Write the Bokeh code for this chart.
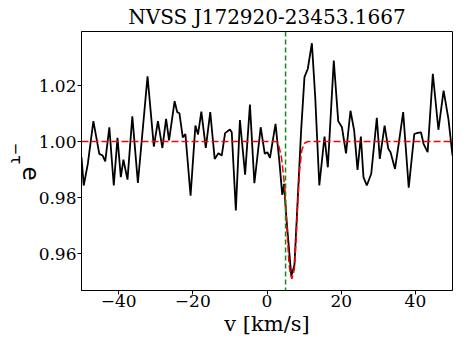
import math
from bokeh.plotting import figure
from bokeh.models import FixedTicker, Label, Span, Range1d
from bokeh.embed import file_html
from bokeh.resources import INLINE

title_text = "NVSS J172920-23453.1667"
x_label = "v [km/s]"

vel = [-50.0, -49.4, -48.3, -46.8, -45.2, -44.3, -43.6, -42.5, -41.3, -40.3,
       -39.4, -38.7, -37.6, -36.3, -34.8, -32.2, -30.5, -29.4, -28.2, -27.2,
       -26.4, -24.9, -24.2, -23.6, -22.7, -22.0, -20.6, -19.3, -18.6, -17.7,
       -16.5, -15.3, -14.1, -13.1, -12.2, -11.3, -10.0, -9.5, -8.4, -7.3,
       -5.9, -4.6, -3.4, -1.7, -0.6, 0.1, 0.8, 2.3, 3.4, 4.1,
       4.6, 5.2, 6.55, 7.4, 8.3, 9.2, 10.1, 11.0, 12.1, 13.0,
       14.1, 15.5, 16.4, 18.0, 19.2, 20.2, 21.3, 22.5, 23.5, 24.4,
       25.3, 26.0, 26.9, 28.1, 29.6, 30.4, 31.7, 32.7, 33.3, 34.5,
       35.5, 36.7, 38.2, 39.7, 40.6, 41.5, 42.2, 43.3, 44.7, 46.2,
       47.6, 48.9, 50.0]
etau = [0.9944, 0.9843, 0.9920, 1.0073, 0.9956, 0.9950, 0.9929, 1.0051, 0.9843, 1.0013,
        0.9873, 0.9935, 0.9864, 1.0090, 0.9852, 1.0233, 0.9982, 1.0073, 0.9977, 1.0081,
        1.0004, 1.0144, 1.0105, 1.0101, 1.0015, 1.0027, 0.9807, 1.0057, 1.0025, 1.0107,
        0.9977, 1.0105, 0.9938, 0.9958, 0.9950, 1.0030, 1.0043, 1.0033, 0.9754, 1.0077,
        0.9882, 1.0132, 0.9851, 1.0051, 0.9956, 0.9962, 0.9942, 1.0063, 0.9920, 0.9810,
        0.9849, 0.9730, 0.9520, 0.9560, 0.9800, 1.0039, 1.0230, 1.0260, 1.0351, 1.0158,
        0.9843, 1.0018, 0.9908, 1.0289, 1.0073, 1.0051, 0.9958, 1.0110, 1.0039, 0.9899,
        1.0018, 0.9873, 0.9843, 0.9885, 1.0085, 0.9938, 1.0057, 0.9974, 0.9962, 0.9902,
        0.9992, 1.0105, 0.9835, 1.0027, 1.0031, 1.0033, 0.9992, 0.9962, 1.0242, 1.0042,
        1.0182, 1.0081, 0.9950]

# fitted model
fit_vel = [-50.0, 2.5, 3.0, 3.9, 4.6, 5.1, 5.5, 5.9, 6.3, 6.7, 7.1, 7.4, 7.9, 8.3, 8.8, 9.4, 10.1, 11.0, 50.0]
fit_etau = [1.0, 1.0, 0.9995, 0.9944, 0.9860, 0.9765, 0.9660, 0.9570, 0.9525, 0.9510, 0.9525, 0.9550, 0.9660, 0.9780, 0.9900, 0.9970, 0.9994, 1.0, 1.0]

v_center = 5.0

x_ticks = [-40, -20, 0, 20, 40]
x_tick_labels = ["\u221240", "\u221220", "0", "20", "40"]
y_ticks = [0.96, 0.98, 1.00, 1.02]
y_tick_labels = ["0.96", "0.98", "1.00", "1.02"]

serif = "DejaVu Serif"

p = figure(width=463, height=347, output_backend="svg", toolbar_location=None,
           x_range=Range1d(-50, 50), y_range=Range1d(0.9468, 1.0393),
           min_border_left=79, min_border_right=11, min_border_top=31, min_border_bottom=57)
p.title.text = title_text
p.title.text_font = serif
p.title.text_font_size = "20px"
p.title.text_font_style = "normal"
p.title.text_color = "black"
p.title.align = "center"
p.title.standoff = 5

p.grid.visible = False
p.outline_line_color = "black"
p.outline_line_width = 1
p.background_fill_color = "white"
p.border_fill_color = "white"

for ax in (p.xaxis[0], p.yaxis[0]):
    ax.major_label_text_font = serif
    ax.major_label_text_font_size = "17px"
    ax.major_label_text_color = "black"
    ax.minor_tick_line_color = None
    ax.major_tick_in = 0
    ax.major_tick_out = 4
    ax.major_tick_line_color = "black"
    ax.axis_line_color = "black"

p.xaxis.major_label_standoff = 0
p.yaxis.major_label_standoff = 1
p.xaxis.ticker = FixedTicker(ticks=x_ticks)
p.xaxis.major_label_overrides = {t: s for t, s in zip(x_ticks, x_tick_labels)}
p.yaxis.ticker = FixedTicker(ticks=y_ticks)
p.yaxis.major_label_overrides = {t: s for t, s in zip(y_ticks, y_tick_labels)}

p.xaxis.axis_label = x_label
p.xaxis.axis_label_text_font = serif
p.xaxis.axis_label_text_font_size = "21px"
p.xaxis.axis_label_text_font_style = "normal"
p.xaxis.axis_label_text_color = "black"
p.xaxis.axis_label_standoff = 2

p.line(vel, etau, line_color="black", line_width=1.8)
p.line(fit_vel, fit_etau, line_color="#ff0000", line_width=1.5, line_dash="7 3")
p.add_layout(Span(location=v_center, dimension="height", line_color="#108c10",
                  line_width=1.5, line_dash="5 3"))

# y label e^{-tau}, placed in canvas pixels inside the left side panel
p.add_layout(Label(x=31, y=173, x_units="canvas", y_units="canvas", text="e", angle=-math.pi / 2,
                   text_align="center", text_baseline="alphabetic",
                   text_font="DejaVu Sans", text_font_size="23px", text_color="black"), "left")
p.add_layout(Label(x=15, y=153, x_units="canvas", y_units="canvas", text="\u2212\u03c4", angle=-math.pi / 2,
                   text_align="center", text_baseline="alphabetic",
                   text_font="DejaVu Sans", text_font_size="15px", text_color="black"), "left")

open("out.html", "w").write(file_html(p, INLINE))
